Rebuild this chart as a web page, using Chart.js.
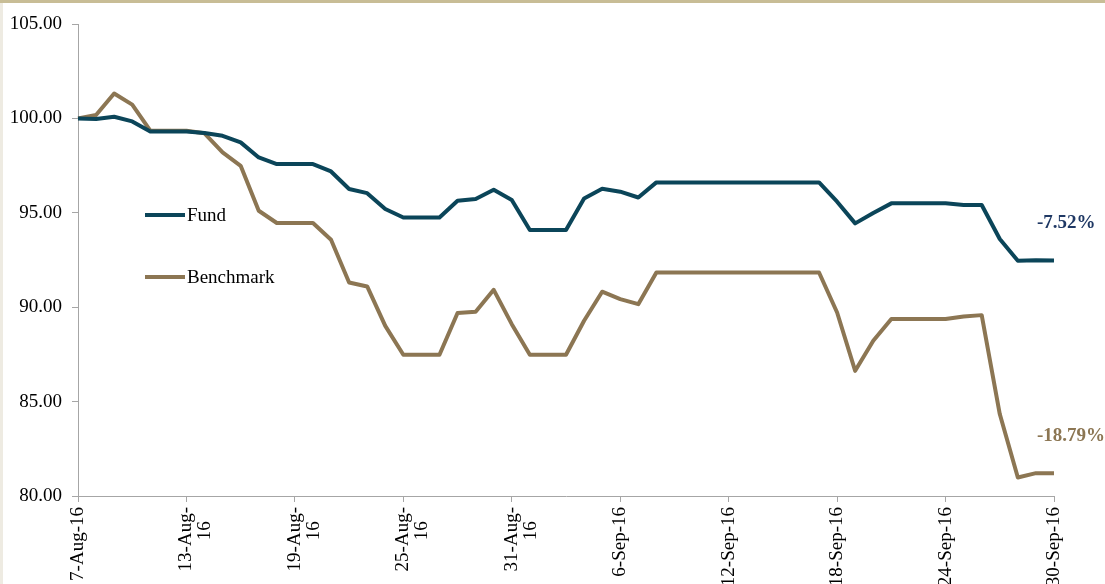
<!DOCTYPE html>
<html>
<head>
<meta charset="utf-8">
<script src="https://cdn.jsdelivr.net/npm/chart.js@4.4.0/dist/chart.umd.min.js"></script>
<style>
  html, body { margin: 0; padding: 0; background: #fff; }
  #wrap { position: relative; width: 1105px; height: 584px; }
  #topbar { position: absolute; left: 0; top: 0; width: 1105px; height: 3px; background: #c8bd96; }
  #leftbar { position: absolute; left: 0; top: 3px; width: 3px; height: 581px; background: #eeebe2; }
</style>
</head>
<body>
<div id="wrap">
  <canvas id="chart"></canvas>
  <div id="topbar"></div>
  <div id="leftbar"></div>
</div>
<script>
// daily dates, 7-Aug-16 .. 30-Sep-16
const dates = [
  '7-Aug-16','8-Aug-16','9-Aug-16','10-Aug-16','11-Aug-16','12-Aug-16','13-Aug-16','14-Aug-16',
  '15-Aug-16','16-Aug-16','17-Aug-16','18-Aug-16','19-Aug-16','20-Aug-16','21-Aug-16','22-Aug-16',
  '23-Aug-16','24-Aug-16','25-Aug-16','26-Aug-16','27-Aug-16','28-Aug-16','29-Aug-16','30-Aug-16',
  '31-Aug-16','1-Sep-16','2-Sep-16','3-Sep-16','4-Sep-16','5-Sep-16','6-Sep-16','7-Sep-16',
  '8-Sep-16','9-Sep-16','10-Sep-16','11-Sep-16','12-Sep-16','13-Sep-16','14-Sep-16','15-Sep-16',
  '16-Sep-16','17-Sep-16','18-Sep-16','19-Sep-16','20-Sep-16','21-Sep-16','22-Sep-16','23-Sep-16',
  '24-Sep-16','25-Sep-16','26-Sep-16','27-Sep-16','28-Sep-16','29-Sep-16','30-Sep-16'
];

const fund = [
  100.00, 99.97, 100.09, 99.84, 99.31, 99.31, 99.31, 99.23, 99.08, 98.73,
  97.93, 97.58, 97.58, 97.58, 97.19, 96.26, 96.04, 95.20, 94.75, 94.75,
  94.75, 95.64, 95.73, 96.22, 95.68, 94.09, 94.09, 94.09, 95.76, 96.27,
  96.12, 95.81, 96.61, 96.61, 96.61, 96.61, 96.61, 96.61, 96.61, 96.61,
  96.61, 96.61, 95.59, 94.44, 94.99, 95.50, 95.50, 95.50, 95.50, 95.41,
  95.41, 93.61, 92.46, 92.49, 92.48
];

const benchmark = [
  100.00, 100.18, 101.32, 100.73, 99.35, 99.35, 99.35, 99.21, 98.20, 97.49,
  95.11, 94.46, 94.46, 94.46, 93.57, 91.31, 91.10, 89.01, 87.48, 87.48,
  87.48, 89.69, 89.76, 90.92, 89.10, 87.48, 87.48, 87.48, 89.28, 90.82,
  90.43, 90.16, 91.84, 91.84, 91.84, 91.84, 91.84, 91.84, 91.84, 91.84,
  91.84, 91.84, 89.72, 86.63, 88.22, 89.37, 89.37, 89.37, 89.37, 89.51,
  89.58, 84.34, 80.98, 81.21, 81.21
];

// labels shown on the x axis (every 6th day), wrapped like the original
const tickLabels = [
  '7-Aug-16', ['13-Aug-', '16   '], ['19-Aug-', '16   '], ['25-Aug-', '16   '], ['31-Aug-', '16   '],
  '6-Sep-16', '12-Sep-16', '18-Sep-16', '24-Sep-16', '30-Sep-16'
];
const endLabels = ['-7.52%', '-18.79%'];

const seriesNames = ['Fund', 'Benchmark'];
const lineColors = ['#0b4559', '#8c7653'];
const endLabelColors = ['#1f3864', '#8c7653'];

const FONT = "'Liberation Serif', 'Times New Roman', serif";
const AXIS_GRAY = '#a6a6a6';

// legend drawn inside the plot, Excel style
const insideLegend = {
  id: 'insideLegend',
  afterDraw(chart) {
    const ctx = chart.ctx;
    const rows = [215, 277];
    ctx.save();
    chart.data.datasets.forEach((ds, i) => {
      const y = rows[i];
      ctx.strokeStyle = ds.borderColor;
      ctx.lineWidth = 4;
      ctx.beginPath();
      ctx.moveTo(145, y);
      ctx.lineTo(185, y);
      ctx.stroke();
      ctx.fillStyle = '#000';
      ctx.font = '19px ' + FONT;
      ctx.textAlign = 'left';
      ctx.textBaseline = 'middle';
      ctx.fillText(ds.label, 187, y + 1);
    });
    ctx.restore();
  }
};

// percentage labels near the last points
const endLabelPlugin = {
  id: 'endLabels',
  afterDatasetsDraw(chart) {
    const ctx = chart.ctx;
    ctx.save();
    ctx.font = 'bold 19px ' + FONT;
    ctx.textAlign = 'left';
    ctx.textBaseline = 'middle';
    chart.data.datasets.forEach((ds, i) => {
      const meta = chart.getDatasetMeta(i);
      const pt = meta.data[meta.data.length - 1];
      ctx.fillStyle = endLabelColors[i];
      ctx.fillText(endLabels[i], pt.x - 17, pt.y - 37);
    });
    ctx.restore();
  }
};

const ctx = document.getElementById('chart');
new Chart(ctx, {
  type: 'line',
  data: {
    labels: dates,
    datasets: [
      { label: seriesNames[0], data: fund, borderColor: lineColors[0], borderWidth: 4 },
      { label: seriesNames[1], data: benchmark, borderColor: lineColors[1], borderWidth: 4 }
    ]
  },
  options: {
    responsive: true,
    maintainAspectRatio: false,
    animation: false,
    layout: { padding: { top: 24, right: 51, left: 0, bottom: 0 } },
    elements: {
      point: { radius: 0, hoverRadius: 0 },
      line: { tension: 0, borderJoinStyle: 'round', borderCapStyle: 'butt' }
    },
    plugins: {
      legend: { display: false },
      tooltip: { enabled: false }
    },
    scales: {
      x: {
        type: 'category',
        offset: false,
        border: { display: true, color: AXIS_GRAY, width: 1 },
        grid: {
          drawOnChartArea: false,
          drawTicks: true,
          tickLength: 6,
          color: c => (c.index % 6 === 0 ? AXIS_GRAY : 'rgba(0,0,0,0)')
        },
        ticks: {
          autoSkip: false,
          minRotation: 90,
          maxRotation: 90,
          padding: 5,
          color: '#000',
          font: { family: FONT, size: 19, lineHeight: 1.0 },
          callback: (v, i) => (i % 6 === 0 ? tickLabels[i / 6] : '')
        },
        afterFit: s => { s.height = 88; }
      },
      y: {
        min: 80,
        max: 105,
        border: { display: true, color: AXIS_GRAY, width: 1 },
        grid: { drawOnChartArea: false, drawTicks: true, tickLength: 6, color: AXIS_GRAY },
        ticks: {
          stepSize: 5,
          padding: 10,
          color: '#000',
          font: { family: FONT, size: 19 },
          callback: v => v.toFixed(2)
        },
        afterFit: s => { s.width = 78; }
      }
    }
  },
  plugins: [insideLegend, endLabelPlugin]
});
</script>
</body>
</html>
